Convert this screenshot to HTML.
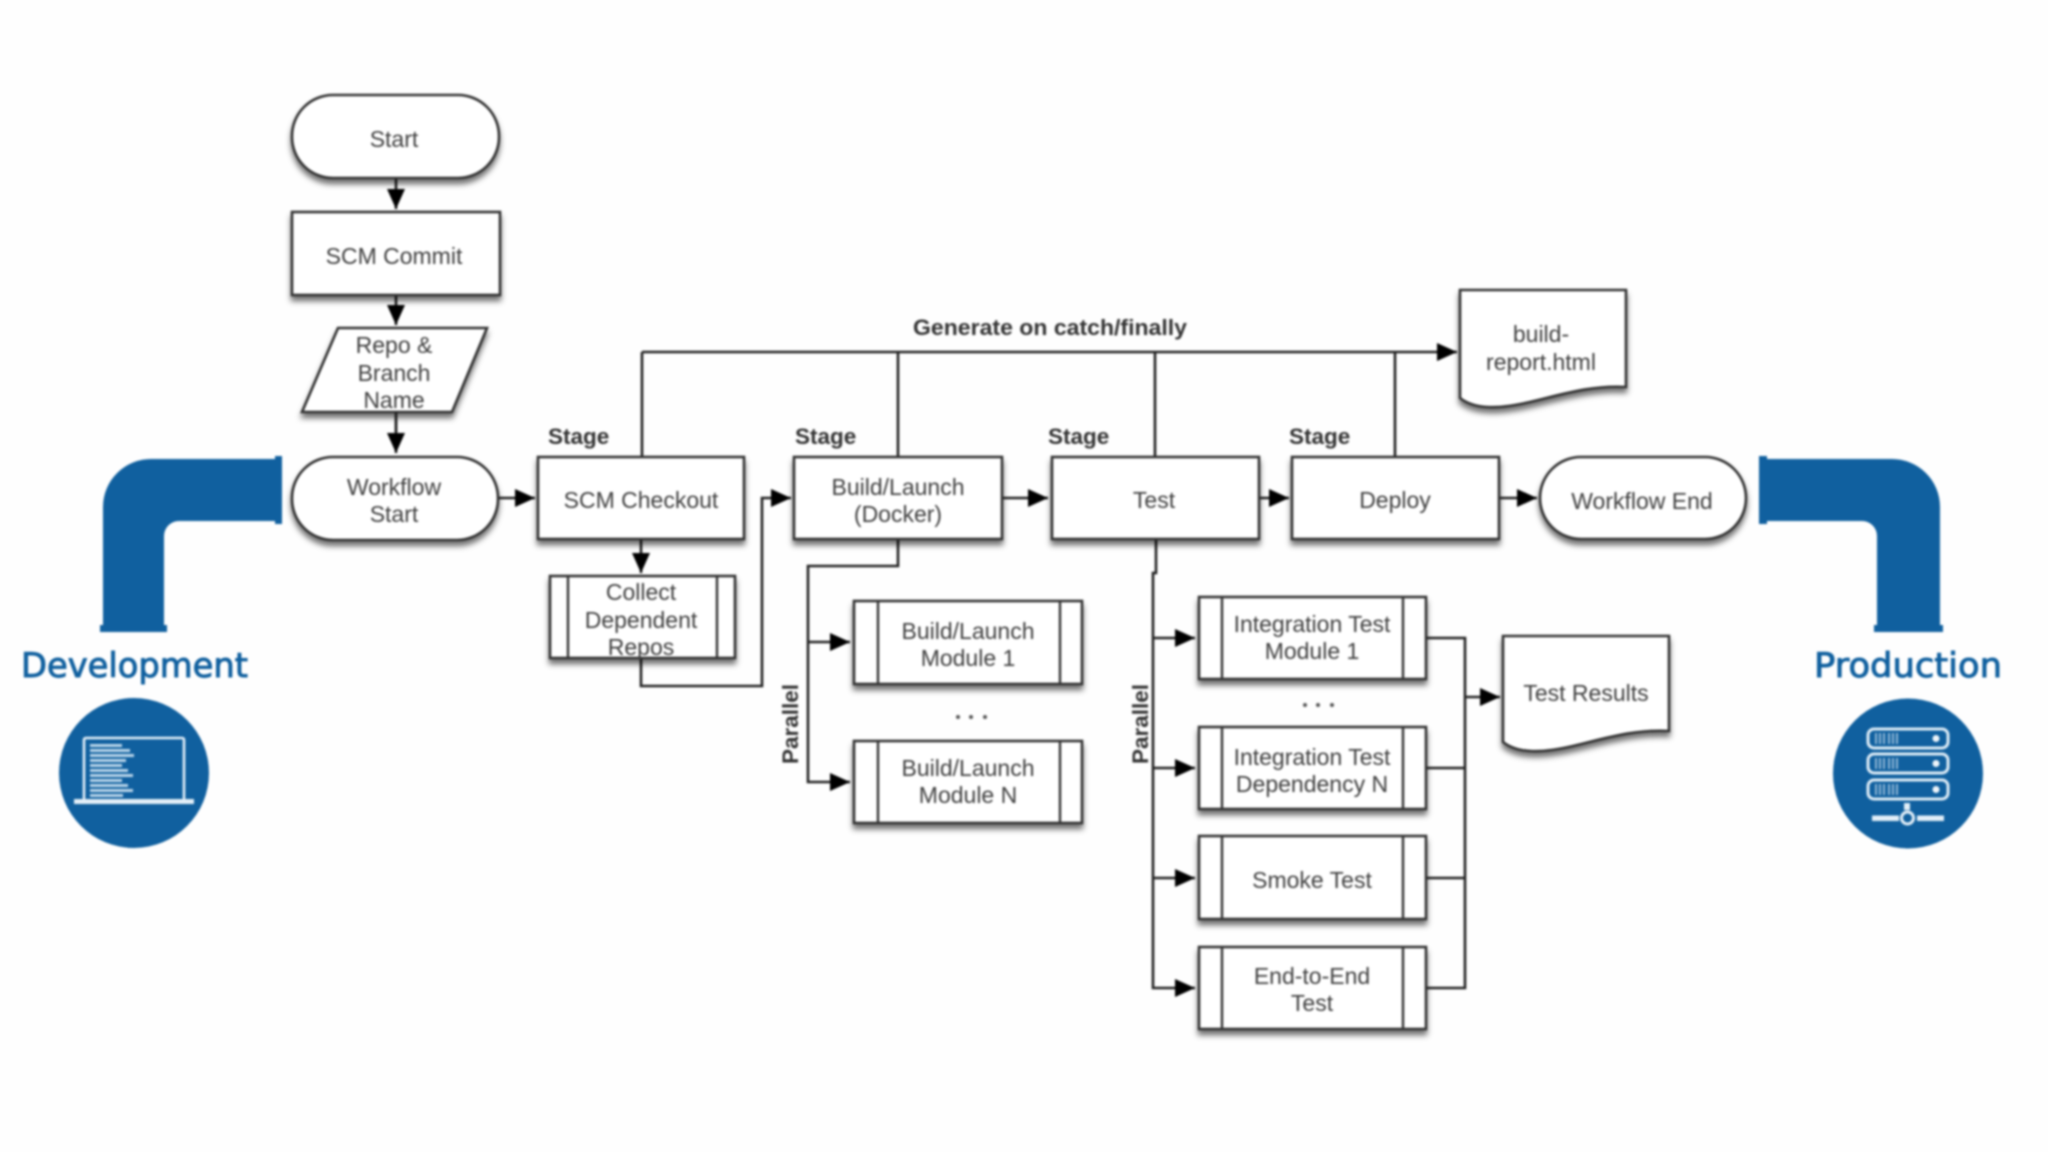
<!DOCTYPE html>
<html><head><meta charset="utf-8"><title>Pipeline</title>
<style>
html,body{margin:0;padding:0;background:#fefefe;width:2048px;height:1152px;overflow:hidden}
svg{display:block;filter:blur(1px)}
text{font-family:"Liberation Sans",Arial,sans-serif;font-size:23px;fill:#404040;text-anchor:middle}
.b{font-weight:bold;fill:#333;font-size:22.5px;text-anchor:start}
.h{font-family:"DejaVu Sans",sans-serif;font-size:34px;fill:#10609f;stroke:#10609f;stroke-width:.9px;text-anchor:start}
.s rect,.s path{fill:#fff;stroke:#333;stroke-width:2.6}
.s{filter:drop-shadow(0 5px 3px rgba(0,0,0,.55))}
.l{fill:none;stroke:#222;stroke-width:2.6}
.d{stroke:#333;stroke-width:2.4}
</style></head><body>
<svg width="2048" height="1152" viewBox="0 0 2048 1152" xmlns="http://www.w3.org/2000/svg">
<defs>
<marker id="a" markerUnits="userSpaceOnUse" markerWidth="21" markerHeight="20" refX="20" refY="10" orient="auto"><path d="M0,1 L20,10 L0,19 Z" fill="#000"/></marker>
</defs>
<rect width="2048" height="1152" fill="#fefefe"/>

<!-- pipes -->
<path fill="#10609f" d="M275,459 H152 A48,48 0 0 0 103,507 V625 H100 V632 H167 V625 H164 V536 A15,15 0 0 1 179,521 H275 V524 H282 V456 H275 Z"/>
<path fill="#10609f" d="M1767,459 H1891 A48,48 0 0 1 1940,507 V625 H1943 V632 H1874 V625 H1877 V536 A15,15 0 0 0 1862,521 H1767 V524 H1759 V456 H1767 Z"/>
<text class="h" x="21" y="677" textLength="227" lengthAdjust="spacingAndGlyphs">Development</text>
<text class="h" x="1814" y="677" textLength="188" lengthAdjust="spacingAndGlyphs">Production</text>

<!-- dev icon -->
<circle cx="134" cy="773" r="75" fill="#10609f"/>
<path d="M84,800 V740 Q84,738 86,738 H182 Q184,738 184,740 V800" fill="none" stroke="#e3eff8" stroke-width="2.6"/>
<rect x="74" y="799" width="120" height="5" fill="#e3eff8"/>
<g fill="#b9d5ea">
<rect x="90" y="744" width="32" height="3"/><rect x="90" y="749" width="40" height="3"/><rect x="90" y="754" width="44" height="3"/>
<rect x="90" y="759" width="36" height="3"/><rect x="90" y="764" width="32" height="3"/><rect x="90" y="769" width="38" height="3"/>
<rect x="90" y="774" width="43" height="3"/><rect x="90" y="779" width="32" height="3"/><rect x="90" y="784" width="38" height="3"/>
<rect x="90" y="789" width="43" height="3"/><rect x="90" y="794" width="33" height="3"/>
</g>

<!-- prod icon -->
<circle cx="1908" cy="773.500" r="75" fill="#10609f"/>
<g fill="none" stroke="#dcebf6" stroke-width="3">
<rect x="1868" y="729" width="80" height="19" rx="6"/>
<rect x="1868" y="754" width="80" height="19" rx="6"/>
<rect x="1868" y="780" width="80" height="19" rx="6"/>
</g>
<g fill="#c4dbec" opacity=".7">
<path d="M1875,733h2v11h-2zM1879,733h2v11h-2zM1883,733h2v11h-2zM1888,733h2v11h-2zM1892,733h2v11h-2zM1896,733h2v11h-2z"/>
<path d="M1875,758h2v11h-2zM1879,758h2v11h-2zM1883,758h2v11h-2zM1888,758h2v11h-2zM1892,758h2v11h-2zM1896,758h2v11h-2z"/>
<path d="M1875,784h2v11h-2zM1879,784h2v11h-2zM1883,784h2v11h-2zM1888,784h2v11h-2zM1892,784h2v11h-2zM1896,784h2v11h-2z"/>
</g>
<g fill="#eef5fa"><circle cx="1936" cy="738.500" r="3.500"/><circle cx="1936" cy="763.500" r="3.500"/><circle cx="1936" cy="789.500" r="3.500"/></g>
<rect x="1904" y="803" width="6" height="7" fill="#e3eff8"/>
<rect x="1872" y="815.500" width="27" height="5.500" fill="#e3eff8"/><rect x="1917" y="815.500" width="27" height="5.500" fill="#e3eff8"/>
<circle cx="1907.500" cy="818" r="6" fill="#10609f" stroke="#e3eff8" stroke-width="3"/>

<!-- connectors -->
<g class="l">
<path d="M642,352 H1457" marker-end="url(#a)"/>
<path d="M642,352 V457 M898,352 V457 M1155,352 V457 M1395,352 V457"/>
<path d="M396,178 V209" marker-end="url(#a)"/>
<path d="M396,295 V325" marker-end="url(#a)"/>
<path d="M396,412 V453" marker-end="url(#a)"/>
<path d="M498,498 H535" marker-end="url(#a)"/>
<path d="M641,539 V573" marker-end="url(#a)"/>
<path d="M641,658 V686 H762 V498 H791" marker-end="url(#a)"/>
<path d="M1002,498 H1048" marker-end="url(#a)"/>
<path d="M1259,498 H1289" marker-end="url(#a)"/>
<path d="M1499,498 H1537" marker-end="url(#a)"/>
<path d="M898,539 V566 H808 V782 H850" marker-end="url(#a)"/>
<path d="M808,642 H850" marker-end="url(#a)"/>
<path d="M1156,539 V573 H1153 V988 H1195" marker-end="url(#a)"/>
<path d="M1153,638 H1195" marker-end="url(#a)"/>
<path d="M1153,768 H1195" marker-end="url(#a)"/>
<path d="M1153,878 H1195" marker-end="url(#a)"/>
<path d="M1426,638 H1465 V988 H1426 M1426,768 H1465 M1426,878 H1465"/>
<path d="M1465,697 H1500" marker-end="url(#a)"/>
</g>

<!-- shapes -->
<g class="s">
<rect x="292" y="95" width="207" height="83" rx="41"/>
<rect x="292" y="212" width="208" height="83"/>
<path d="M338,328 H487 L452,412 H302 Z"/>
<rect x="292" y="457" width="206" height="83" rx="41"/>
<rect x="538" y="457" width="206" height="82"/>
<rect x="794" y="457" width="208" height="82"/>
<rect x="1052" y="457" width="207" height="82"/>
<rect x="1292" y="457" width="207" height="82"/>
<rect x="1540" y="457" width="206" height="82" rx="41"/>
<rect x="550" y="576" width="185" height="82"/>
<rect x="854" y="601" width="228" height="83"/>
<rect x="854" y="741" width="228" height="82"/>
<rect x="1199" y="597" width="227" height="82"/>
<rect x="1199" y="727" width="227" height="82"/>
<rect x="1199" y="836" width="227" height="83"/>
<rect x="1199" y="947" width="227" height="82"/>
<path d="M1460,290 H1626 V387 C1590,385 1560,395 1530,402 C1500,409 1475,410 1460,398 Z"/>
<path d="M1503,636 H1669 V731 C1633,729 1603,739 1573,746 C1543,753 1518,754 1503,742 Z"/>
</g>
<g class="d">
<line x1="568" y1="576" x2="568" y2="658"/><line x1="717" y1="576" x2="717" y2="658"/>
<line x1="878" y1="601" x2="878" y2="684"/><line x1="1060" y1="601" x2="1060" y2="684"/>
<line x1="878" y1="741" x2="878" y2="823"/><line x1="1060" y1="741" x2="1060" y2="823"/>
<line x1="1222" y1="597" x2="1222" y2="679"/><line x1="1403" y1="597" x2="1403" y2="679"/>
<line x1="1222" y1="727" x2="1222" y2="809"/><line x1="1403" y1="727" x2="1403" y2="809"/>
<line x1="1222" y1="836" x2="1222" y2="919"/><line x1="1403" y1="836" x2="1403" y2="919"/>
<line x1="1222" y1="947" x2="1222" y2="1029"/><line x1="1403" y1="947" x2="1403" y2="1029"/>
</g>
<path class="l" d="M396,412 V432" />

<!-- labels -->
<text x="394" y="147">Start</text>
<text x="394" y="264">SCM Commit</text>
<text x="394" y="353">Repo &amp;</text><text x="394" y="381">Branch</text><text x="394" y="408">Name</text>
<text x="394" y="495">Workflow</text><text x="394" y="522">Start</text>
<text x="641" y="508">SCM Checkout</text>
<text x="641" y="600">Collect</text><text x="641" y="628">Dependent</text><text x="641" y="655">Repos</text>
<text x="898" y="495">Build/Launch</text><text x="898" y="522">(Docker)</text>
<text x="1154" y="508">Test</text>
<text x="1395" y="508">Deploy</text>
<text x="1642" y="509">Workflow End</text>
<text x="1541" y="342">build-</text><text x="1541" y="370">report.html</text>
<text x="1586" y="701">Test Results</text>
<text x="968" y="639">Build/Launch</text><text x="968" y="666">Module 1</text>
<text x="968" y="776">Build/Launch</text><text x="968" y="803">Module N</text>
<text x="1312" y="632">Integration Test</text><text x="1312" y="659">Module 1</text>
<text x="1312" y="765">Integration Test</text><text x="1312" y="792">Dependency N</text>
<text x="1312" y="888">Smoke Test</text>
<text x="1312" y="984">End-to-End</text><text x="1312" y="1011">Test</text>

<text class="b" x="913" y="335" textLength="274" lengthAdjust="spacingAndGlyphs">Generate on catch/finally</text>
<text class="b" x="548" y="444">Stage</text>
<text class="b" x="795" y="444">Stage</text>
<text class="b" x="1048" y="444">Stage</text>
<text class="b" x="1289" y="444">Stage</text>
<text class="b" transform="translate(798,764) rotate(-90)" textLength="80" lengthAdjust="spacingAndGlyphs">Parallel</text>
<text class="b" transform="translate(1148,764) rotate(-90)" textLength="80" lengthAdjust="spacingAndGlyphs">Parallel</text>
<g fill="#555"><circle cx="958" cy="717" r="2"/><circle cx="971" cy="717" r="2"/><circle cx="985" cy="717" r="2"/>
<circle cx="1305" cy="705" r="2"/><circle cx="1318" cy="705" r="2"/><circle cx="1332" cy="705" r="2"/></g>
</svg>
</body></html>
